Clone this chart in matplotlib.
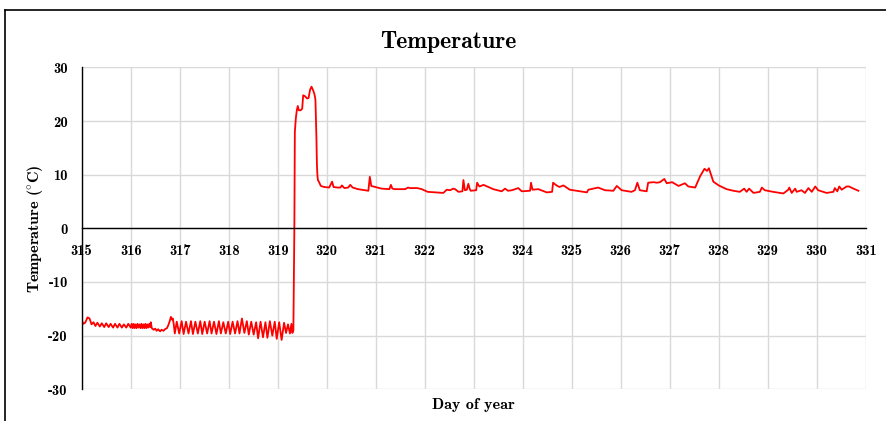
import numpy as np
import matplotlib
matplotlib.use('Agg')
import matplotlib.pyplot as plt
from matplotlib.lines import Line2D

plt.rcParams['font.family'] = ['cmb10', 'DejaVu Serif']
plt.rcParams['mathtext.fontset'] = 'cm'
plt.rcParams['axes.unicode_minus'] = False

# cold phase (day, temperature)
cold_days = [315.00, 315.03, 315.07, 315.12, 315.16, 315.20, 315.24, 315.28, 315.32, 315.37,
             315.41, 315.46, 315.50, 315.55, 315.59, 315.64, 315.68, 315.73, 315.77, 315.82,
             315.86, 315.91, 315.95, 316.00,
             316.02, 316.04, 316.06, 316.08, 316.10, 316.12, 316.14, 316.16, 316.18, 316.20,
             316.22, 316.24, 316.26, 316.28, 316.30, 316.32, 316.34, 316.36, 316.38, 316.40,
             316.41, 316.43,
             316.47, 316.50, 316.53, 316.56, 316.60, 316.63, 316.67, 316.70, 316.74, 316.77,
             316.80, 316.82, 316.84, 316.86, 316.88, 316.90]
cold_temps = [-17.0, -17.8, -17.6, -16.6, -16.8, -17.9, -17.5, -18.2, -17.6, -18.3,
              -17.7, -18.4, -17.7, -18.4, -17.8, -18.5, -17.8, -18.5, -17.8, -18.5,
              -17.9, -18.5, -17.8, -18.5,
              -17.8, -18.6, -17.8, -18.6, -17.9, -18.6, -17.8, -18.5, -17.9, -18.6,
              -17.8, -18.6, -17.9, -18.6, -17.8, -18.6, -17.9, -18.5, -17.8, -18.4,
              -17.5, -18.6,
              -18.9, -18.7, -19.1, -18.8, -19.2, -18.9, -19.1, -18.8, -18.6, -18.0,
              -17.2, -16.5, -17.0, -16.8, -18.0, -19.6]

# freezer cycling before the jump
cycle_days = [316.94, 316.99, 317.04, 317.08, 317.13, 317.18, 317.23, 317.27, 317.32, 317.37,
              317.42, 317.46, 317.51, 317.56, 317.61, 317.65, 317.70, 317.75, 317.80, 317.84,
              317.89, 317.94, 317.99, 318.03, 318.08, 318.13, 318.18, 318.22, 318.27, 318.32,
              318.37, 318.41, 318.46, 318.51, 318.56, 318.60, 318.65, 318.70, 318.75, 318.79,
              318.84, 318.89, 318.94, 318.98, 319.03, 319.08, 319.13, 319.17, 319.21, 319.25,
              319.28, 319.30]
cycle_temps = [-17.4, -19.6, -17.3, -19.7, -17.4, -19.6, -17.3, -19.7, -17.4, -19.6,
               -17.3, -19.7, -17.4, -19.6, -17.3, -19.6, -17.4, -19.7, -17.3, -19.6,
               -17.5, -19.6, -17.4, -19.7, -17.4, -19.6, -17.3, -19.6, -16.8, -19.5,
               -17.3, -19.8, -17.4, -19.8, -17.5, -20.5, -17.4, -20.3, -17.5, -20.4,
               -17.3, -20.0, -17.4, -20.6, -17.5, -20.8, -17.6, -19.5, -17.9, -19.6,
               -17.8, -19.5]

# warm spike
warm_days = [319.32, 319.34, 319.35, 319.37, 319.39, 319.41, 319.43, 319.47, 319.50, 319.52,
             319.56, 319.60, 319.63, 319.66, 319.69, 319.72, 319.75, 319.77, 319.79, 319.80,
             319.81, 319.82]
warm_temps = [-19.0, 0.0, 18.0, 20.5, 22.0, 22.8, 22.0, 22.0, 22.3, 24.8,
              24.6, 24.2, 24.3, 25.8, 26.4, 25.8, 25.0, 24.0, 17.0, 12.0,
              10.0, 9.0]

# fridge phase
fridge_days = [319.84, 319.88, 319.95, 320.05, 320.11, 320.14, 320.22, 320.28, 320.31, 320.36,
               320.44, 320.48, 320.53, 320.64, 320.85, 320.88, 320.91, 320.95, 321.12, 321.28,
               321.31, 321.34, 321.39, 321.60, 321.66, 321.70, 321.85, 321.94, 322.06, 322.38,
               322.45, 322.52, 322.58, 322.62, 322.69, 322.77, 322.79, 322.82, 322.86, 322.89,
               322.92, 322.94, 323.05, 323.07, 323.10, 323.12, 323.20, 323.40, 323.57, 323.64,
               323.70, 323.78, 323.91, 323.98, 324.15, 324.17, 324.20, 324.32, 324.49, 324.60,
               324.62, 324.69, 324.75, 324.83, 324.96, 325.17, 325.31, 325.34, 325.54, 325.68,
               325.85, 325.92, 326.02, 326.22, 326.29, 326.34, 326.39, 326.53, 326.56, 326.67,
               326.74, 326.80, 326.89, 326.94, 327.05, 327.18, 327.31, 327.38, 327.52, 327.62,
               327.71, 327.76, 327.80, 327.89, 328.00, 328.16, 328.30, 328.43, 328.52, 328.57,
               328.62, 328.71, 328.84, 328.88, 328.94, 329.11, 329.32, 329.42, 329.44, 329.49,
               329.56, 329.59, 329.69, 329.76, 329.83, 329.90, 329.97, 330.03, 330.20, 330.34,
               330.37, 330.42, 330.46, 330.51, 330.61, 330.66, 330.75, 330.85]
fridge_temps = [8.7, 7.9, 7.7, 7.6, 8.7, 7.7, 7.6, 7.6, 8.0, 7.5,
                7.6, 8.1, 7.6, 7.3, 7.0, 9.6, 7.9, 7.8, 7.4, 7.3,
                8.1, 7.4, 7.3, 7.3, 7.6, 7.5, 7.5, 7.3, 6.8, 6.6,
                7.2, 7.1, 7.4, 7.3, 6.8, 6.9, 9.0, 7.1, 7.2, 8.3,
                7.3, 7.0, 7.1, 8.5, 8.0, 7.8, 8.1, 7.3, 6.9, 7.4,
                7.0, 7.1, 7.5, 6.9, 7.0, 8.5, 7.2, 7.3, 6.7, 6.8,
                8.5, 8.0, 7.7, 8.0, 7.2, 6.9, 6.7, 7.2, 7.6, 7.1,
                7.0, 7.9, 7.1, 6.8, 7.1, 8.5, 7.1, 6.9, 8.5, 8.6,
                8.5, 8.6, 9.2, 8.4, 8.6, 7.9, 8.4, 7.8, 7.6, 9.7,
                11.1, 10.7, 11.2, 8.7, 8.0, 7.3, 7.0, 6.8, 7.4, 6.8,
                7.4, 6.6, 6.8, 7.6, 7.1, 6.8, 6.5, 7.2, 7.6, 6.6,
                7.4, 6.8, 7.1, 6.6, 7.5, 6.8, 7.8, 7.1, 6.6, 6.8,
                7.5, 6.9, 7.8, 7.2, 7.8, 7.8, 7.4, 7.0]

days = cold_days + cycle_days + warm_days + fridge_days
temps = cold_temps + cycle_temps + warm_temps + fridge_temps

fig = plt.figure(figsize=(8.87, 4.21), dpi=100)
ax = fig.add_axes([0.0921, 0.0753, 0.8839, 0.7647])

ax.plot(days, temps, color='red', lw=1.3)

ax.set_xlim(315, 331)
ax.set_ylim(-30, 30)
ax.set_xticks(range(315, 332))
ax.set_yticks(range(-30, 31, 10))
ax.grid(True, color='#d9d9d9', lw=1)
ax.set_axisbelow(True)

for s in ['top', 'right']:
    ax.spines[s].set_visible(False)
ax.spines['bottom'].set_position(('data', 0))
ax.spines['left'].set_linewidth(1)
ax.spines['bottom'].set_linewidth(1)
ax.tick_params(length=0, labelsize=10.5)
ax.tick_params(axis='x', pad=11)
ax.tick_params(axis='y', pad=10)

ax.set_title('Temperature', fontsize=17, pad=14, x=0.468)
ax.set_ylabel(r'Temperature ($\!^\circ\!$C)', fontsize=11.5)
ax.yaxis.set_label_coords(-0.047, 0.5)
ax.set_xlabel('Day of year', fontsize=11.5)
ax.xaxis.set_label_coords(0.5, -0.027)

# outer frame
fig.add_artist(Line2D([5 / 887, 1], [1 - 10 / 421, 1 - 10 / 421], color='black', lw=1.2))
fig.add_artist(Line2D([5 / 887, 5 / 887], [0, 1 - 10 / 421], color='black', lw=1.2))

fig.savefig('out.png', dpi=100)
